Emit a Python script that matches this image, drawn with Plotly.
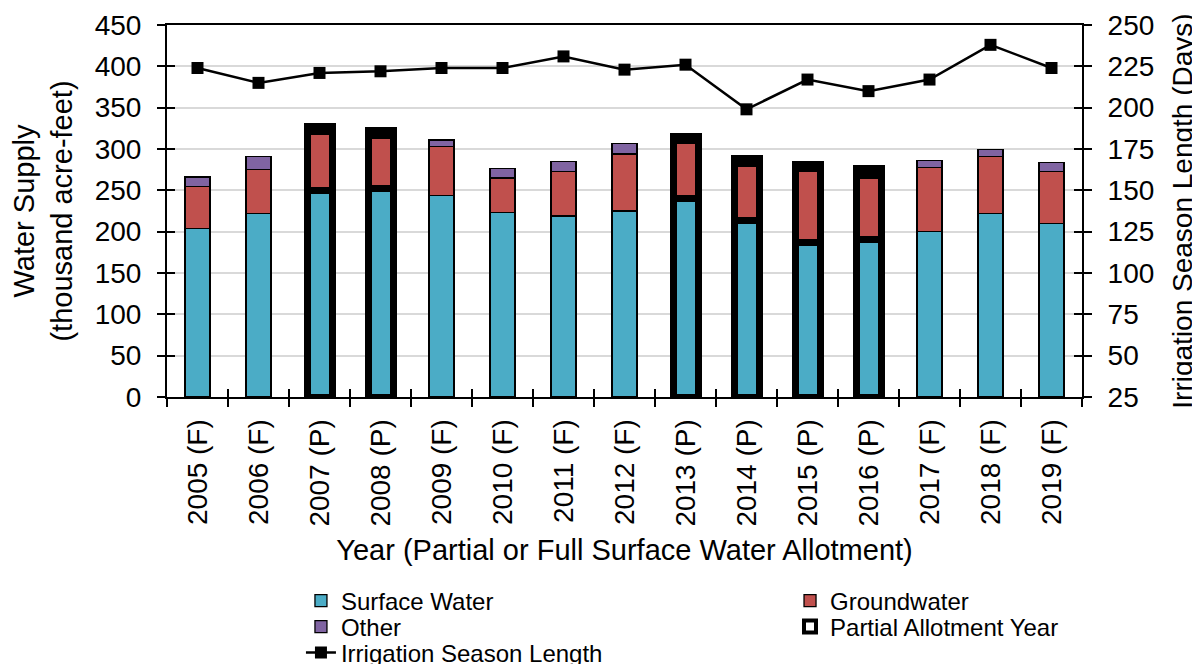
####################################################################################################
##                                   LIBRARIES AND DEPENDENCIES                                   ##
####################################################################################################

import plotly.graph_objs as go


####################################################################################################
##                                             DATA                                               ##
####################################################################################################

# Year labels, (F) full / (P) partial surface water allotment
categories = ['2005 (F)', '2006 (F)', '2007 (P)', '2008 (P)', '2009 (F)', '2010 (F)', '2011 (F)',
              '2012 (F)', '2013 (P)', '2014 (P)', '2015 (P)', '2016 (P)', '2017 (F)', '2018 (F)',
              '2019 (F)']
partial_year = [False, False, True, True, False, False, False, False, True, True, True, True,
                False, False, False]
# Water supply (thousand acre-feet)
surface_water = [204, 222, 250, 252, 244, 223, 219, 225, 240, 214, 187, 190, 200, 222, 210]
groundwater = [51, 53, 71, 64, 59, 42, 54, 69, 70, 69, 90, 78, 78, 69, 63]
other = [11, 16, 6, 6, 8, 11, 12, 13, 5, 6, 4, 8, 8, 8, 11]
# Irrigation season length (days)
season_length = [224, 215, 221, 222, 224, 224, 231, 223, 226, 199, 217, 210, 217, 238, 224]


####################################################################################################
##                                           PLOTTING                                             ##
####################################################################################################

FONT = 'Liberation Sans, Arial, sans-serif'
AXIS_FONT = dict(family=FONT, size=28, color='black')
TITLE_FONT = dict(family=FONT, size=29, color='black')
LEGEND_FONT = dict(family=FONT, size=24, color='black')

# Thick black outline on the partial allotment years
outline = [7 if p else 1.3 for p in partial_year]


def stacked_bar(name, values, color, legend):
    return go.Bar(
        name=name,
        x=categories,
        y=values,
        width=0.41,
        legend=legend,
        marker=dict(color=color, line=dict(color='black', width=outline)))


traces = [
    stacked_bar('Surface Water', surface_water, '#4bacc6', 'legend'),
    stacked_bar('Groundwater', groundwater, '#c0504d', 'legend2'),
    stacked_bar('Other', other, '#8064a2', 'legend3'),
    # legend key only (no data), sits on the overlay axes used for the crossing ticks
    go.Bar(name='Partial Allotment Year', x=[None], y=[None], xaxis='x2', yaxis='y3',
           legend='legend4', hoverinfo='skip',
           marker=dict(color='white', line=dict(color='black', width=4))),
    go.Scatter(x=[None], y=[None], xaxis='x2', yaxis='y4', showlegend=False, hoverinfo='skip'),
    go.Scatter(
        name='Irrigation Season Length',
        x=categories,
        y=season_length,
        yaxis='y2',
        legend='legend5',
        mode='lines+markers',
        line=dict(color='black', width=2.5),
        marker=dict(symbol='square', size=12, color='black')),
]

## Axes
common = dict(showline=True, linecolor='black', linewidth=2, ticks='outside', ticklen=8,
              tickwidth=2, tickcolor='black', tickfont=AXIS_FONT, zeroline=False,
              automargin=False)
inner = dict(ticks='inside', ticklen=8, tickwidth=2, tickcolor='black', showticklabels=False,
             showgrid=False, zeroline=False, showline=False, automargin=False)


def legend_box(x, y):
    return dict(x=x, xanchor='left', y=y, yanchor='middle', orientation='v', font=LEGEND_FONT,
                bgcolor='rgba(0,0,0,0)', borderwidth=0)


# the page body adds an 8px offset, margins are set to compensate
layout = go.Layout(
    width=1200,
    height=664,
    margin=dict(l=159, r=126, t=17, b=275, autoexpand=False),
    barmode='stack',
    plot_bgcolor='white',
    paper_bgcolor='white',
    font=dict(family=FONT, color='black'),
    xaxis=dict(
        common,
        type='category',
        range=[-0.5, 14.5],
        mirror=True,
        tickson='boundaries',
        tickangle=-90,
        ticklabelstandoff=9,
        showgrid=False,
        title=dict(text='Year (Partial or Full Surface Water Allotment)', font=TITLE_FONT,
                   standoff=14)),
    yaxis=dict(
        common,
        range=[0, 450],
        dtick=50,
        showgrid=True,
        gridcolor='#d9d9d9',
        gridwidth=1.5,
        ticklabelstandoff=10,
        title=dict(text='Water Supply<br>(thousand acre-feet)', font=TITLE_FONT, standoff=20)),
    yaxis2=dict(
        common,
        overlaying='y',
        side='right',
        range=[25, 250],
        tick0=25,
        dtick=25,
        showgrid=False,
        ticklabelstandoff=10,
        title=dict(text='Irrigation Season Length (Days)', font=dict(TITLE_FONT, size=28),
                   standoff=19)),
    # inner halves of the crossing tick marks
    xaxis2=dict(inner, overlaying='x', anchor='y', range=[-0.5, 14.5], tick0=-0.5, dtick=1),
    yaxis3=dict(inner, overlaying='y', anchor='x', side='left', range=[0, 450], dtick=50),
    yaxis4=dict(inner, overlaying='y', anchor='x', side='right', range=[25, 250], tick0=25,
                dtick=25),
    legend=legend_box(0.1464, -0.5484),
    legend2=legend_box(0.6809, -0.5484),
    legend3=legend_box(0.1464, -0.6183),
    legend4=legend_box(0.6809, -0.6183),
    legend5=legend_box(0.1464, -0.6882),
)

fig = go.Figure(data=traces, layout=layout)
fig.write_html('out.html')
